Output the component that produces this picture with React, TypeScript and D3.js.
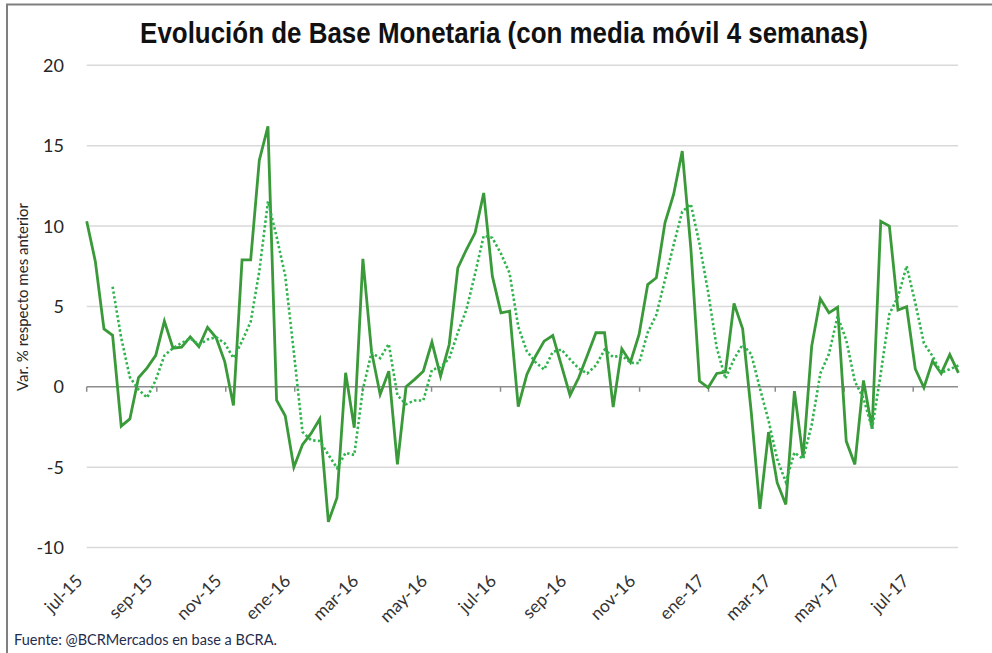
import React, { useRef, useEffect } from 'react';
import * as d3 from 'd3';

// Variación % semanal de la base monetaria respecto del mes anterior (lectura del gráfico)
const baseMonetaria = [
  10.3, 7.8, 3.6, 3.2, -2.45, -2.0, 0.56, 1.18, 1.95, 4.08,
  2.4, 2.47, 3.1, 2.5, 3.7, 3.05, 1.55, -1.16, 7.9, 7.9,
  14.1, 16.2, -0.83, -1.8, -5.0, -3.6, -2.9, -2.0, -8.4, -6.9,
  0.87, -2.55, 7.96, 2.2, -0.48, 0.97, -4.83, 0.0, 0.46, 0.97,
  2.78, 0.66, 2.63, 7.4, 8.54, 9.58, 12.06, 6.88, 4.6, 4.7,
  -1.24, 0.77, 1.9, 2.84, 3.19, 1.33, -0.54, 0.56, 1.95, 3.36,
  3.36, -1.26, 2.36, 1.53, 3.25, 6.36, 6.78, 10.2, 11.96, 14.66,
  8.6, 0.35, -0.06, 0.83, 0.91, 5.18, 3.6, -1.6, -7.59, -2.82,
  -5.97, -7.32, -0.27, -4.42, 2.53, 5.47, 4.6, 4.95, -3.38, -4.83,
  0.39, -2.61, 10.3, 10.0, 4.77, 4.98, 1.12, -0.06, 1.6, 0.83,
  2.0, 0.87,
];

const firstDate = new Date(2015, 6, 1);
const lastDate = new Date(2017, 7, 10);

const tickLabels = [
  'jul-15', 'sep-15', 'nov-15', 'ene-16', 'mar-16', 'may-16', 'jul-16',
  'sep-16', 'nov-16', 'ene-17', 'mar-17', 'may-17', 'jul-17',
];
const tickDates = tickLabels.map((_, i) => new Date(2015, 6 + i * 2, 1));
const yTicks = [-10, -5, 0, 5, 10, 15, 20];

const App = () => {
  const svgRef = useRef<SVGSVGElement>(null);

  useEffect(() => {
    const width = 992;
    const height = 653;
    const svg = d3.select(svgRef.current);
    svg.selectAll('*').remove();

    svg.append('rect').attr('width', width).attr('height', height).attr('fill', '#fff');
    // marco
    svg.append('path')
      .attr('d', `M7,${height} V4.5 H${width}`)
      .attr('fill', 'none')
      .attr('stroke', '#7f7f7f')
      .attr('stroke-width', 2);

    const x = d3.scaleTime()
      .domain([new Date(2015, 6, 1), new Date(2017, 6, 1)])
      .range([86.7, 913.2]);
    const y = d3.scaleLinear().domain([-10, 20]).range([547.5, 65.3]);

    const xi = d3.scaleLinear()
      .domain([0, baseMonetaria.length - 1])
      .range([x(firstDate), x(lastDate)]);
    const gridRight = 958;

    // grilla
    svg.append('g')
      .selectAll('line')
      .data(yTicks.filter(d => d !== 0))
      .enter()
      .append('line')
      .attr('x1', x(firstDate))
      .attr('x2', gridRight)
      .attr('y1', d => y(d))
      .attr('y2', d => y(d))
      .attr('stroke', '#d9d9d9')
      .attr('stroke-width', 1.5);

    svg.append('g')
      .selectAll('text')
      .data(yTicks)
      .enter()
      .append('text')
      .attr('x', 64)
      .attr('y', d => y(d))
      .attr('dy', '0.36em')
      .attr('text-anchor', 'end')
      .style('font-family', 'Lato, "Open Sans", sans-serif')
      .style('font-size', '18px')
      .style('fill', '#262626')
      .text(d => d);

    // eje cero con marcas
    svg.append('line')
      .attr('x1', x(firstDate))
      .attr('x2', gridRight)
      .attr('y1', y(0))
      .attr('y2', y(0))
      .attr('stroke', '#8c8c8c')
      .attr('stroke-width', 1.5);

    svg.append('g')
      .selectAll('line')
      .data(tickDates)
      .enter()
      .append('line')
      .attr('x1', d => x(d))
      .attr('x2', d => x(d))
      .attr('y1', y(0))
      .attr('y2', y(0) + 5)
      .attr('stroke', '#8c8c8c')
      .attr('stroke-width', 1.5);

    svg.append('g')
      .selectAll('text')
      .data(tickDates)
      .enter()
      .append('text')
      .attr('transform', d => `translate(${x(d) - 3}, 582) rotate(-45)`)
      .attr('text-anchor', 'end')
      .style('font-family', 'Lato, "Open Sans", sans-serif')
      .style('font-size', '17.5px')
      .style('fill', '#333')
      .text((d, i) => tickLabels[i]);

    // serie semanal
    const line = d3.line<number>()
      .x((d, i) => xi(i))
      .y(d => y(d));

    svg.append('path')
      .datum(baseMonetaria)
      .attr('d', line)
      .attr('fill', 'none')
      .attr('stroke', '#3a9a3a')
      .attr('stroke-width', 2.8)
      .attr('stroke-linejoin', 'miter');

    // línea de tendencia: media móvil 4 semanas
    const media = baseMonetaria
      .map((v, i) => (i < 3 ? null : d3.mean(baseMonetaria.slice(i - 3, i + 1)) as number));
    const mediaLine = d3.line<number | null>()
      .defined(d => d !== null)
      .x((d, i) => xi(i))
      .y(d => y(d as number));

    svg.append('path')
      .datum(media)
      .attr('d', mediaLine)
      .attr('fill', 'none')
      .attr('stroke', '#2fb34c')
      .attr('stroke-width', 2.6)
      .attr('stroke-dasharray', '2.4 2.4');

    svg.append('text')
      .attr('transform', `translate(28, 297) rotate(-90)`)
      .attr('text-anchor', 'middle')
      .style('font-family', 'Lato, "Open Sans", sans-serif')
      .style('font-size', '15px')
      .style('fill', '#262626')
      .text('Var. % respecto mes anterior');

    // título condensado: se escala horizontalmente en vez de usar textLength
    svg.append('text')
      .attr('transform', 'translate(504, 43) scale(0.865, 1)')
      .attr('text-anchor', 'middle')
      .style('font-family', '"Liberation Sans", Arial, sans-serif')
      .style('font-weight', 'bold')
      .style('font-size', '30px')
      .style('fill', '#111')
      .text('Evolución de Base Monetaria (con media móvil 4 semanas)');

    svg.append('text')
      .attr('x', 14)
      .attr('y', 645)
      .style('font-family', 'Lato, "Open Sans", sans-serif')
      .style('font-size', '14.5px')
      .style('fill', '#1f2d4d')
      .text('Fuente: @BCRMercados en base a BCRA.');
  }, []);

  return (
    <svg
      ref={svgRef}
      width={992}
      height={653}
      style={{ position: 'fixed', left: 0, top: 0, display: 'block' }}
    ></svg>
  );
};

export default App;
